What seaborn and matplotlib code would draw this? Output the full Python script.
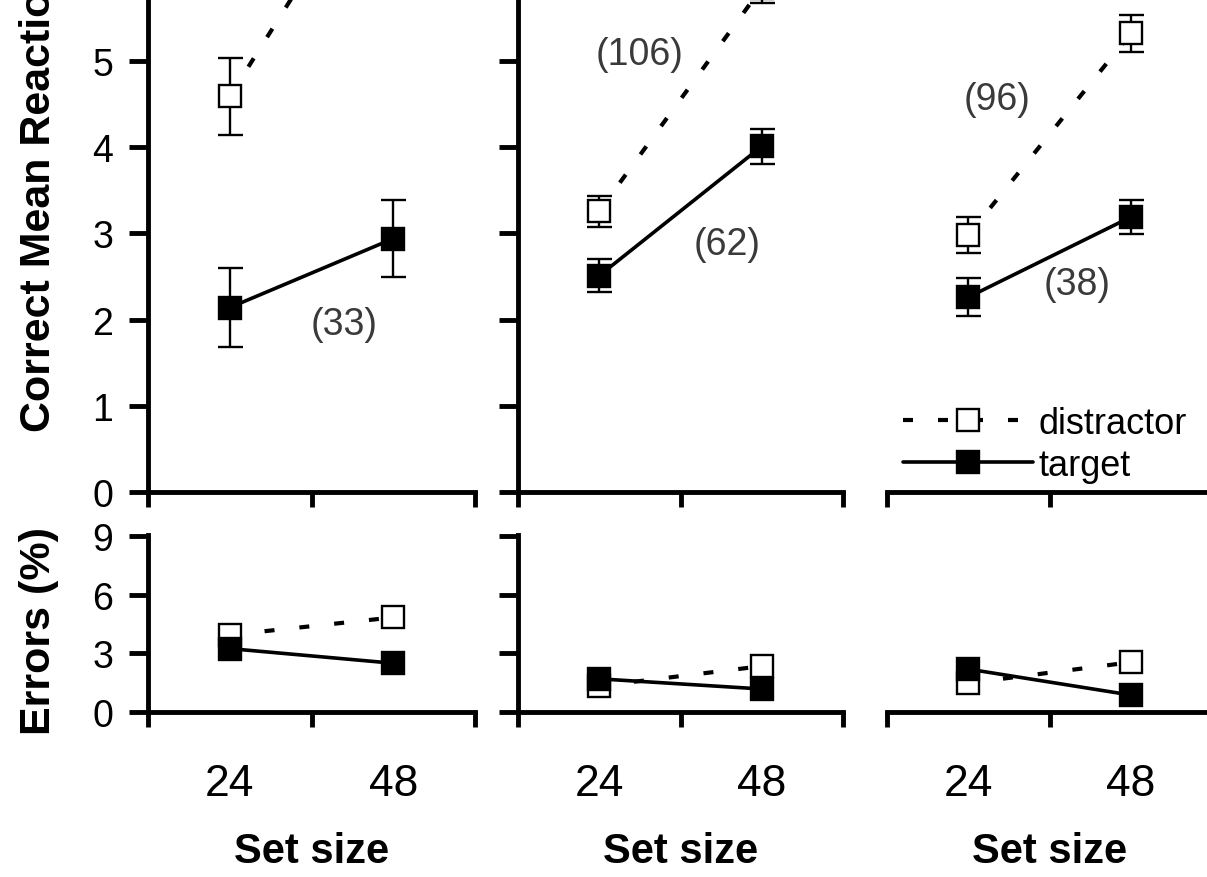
import numpy as np
import matplotlib
matplotlib.use("Agg")
import matplotlib.pyplot as plt
import seaborn as sns
from matplotlib.ticker import FixedLocator, NullFormatter, FixedFormatter

# ---------------- data ----------------
set_sizes = ["24", "48"]
# correct mean reaction time (s), one pair per panel
rt_distractor = [[4.59, 7.60], [3.26, 5.85], [2.98, 5.32]]
rt_distractor_sem = [[0.45, 0.45], [0.18, 0.18], [0.21, 0.22]]
rt_target = [[2.14, 2.94], [2.51, 4.01], [2.26, 3.19]]
rt_target_sem = [[0.46, 0.45], [0.19, 0.20], [0.22, 0.20]]
slope_distractor = [None, "(106)", "(96)"]
slope_target = ["(33)", "(62)", "(38)"]
# errors (%)
err_distractor = [[3.95, 4.85], [1.33, 2.35], [1.48, 2.55]]
err_target = [[3.25, 2.50], [1.70, 1.18], [2.20, 0.87]]
series_names = ["distractor", "target"]

# ---------------- style ----------------
sns.set_style("ticks")
plt.rcParams["font.family"] = ["Liberation Sans", "DejaVu Sans"]
for key in ("text.color", "axes.edgecolor", "axes.labelcolor",
            "xtick.color", "ytick.color"):
    plt.rcParams[key] = "black"
plt.rcParams["axes.linewidth"] = 3.5

W, H = 1207, 878
fig = plt.figure(figsize=(W / 100, H / 100), dpi=100)

lefts = [148, 518, 887]
widths = [327, 325, 325]
xpos = np.arange(len(set_sizes))

# annotation positions (axes-data coords)
pos_slope_d = [None, (0.25, 5.08), (0.18, 4.56)]
pos_slope_t = [(0.70, 1.95), (0.79, 2.88), (0.67, 2.41)]

dash = (0, (2.4, 6.0))


def draw_series(ax, y, yerr, filled, dashed, z):
    if yerr is not None:
        ax.errorbar(xpos, y, yerr=yerr, fmt="none", ecolor="black",
                    elinewidth=1.7, capsize=9, capthick=1.7, zorder=z - 1)
    sns.lineplot(x=xpos, y=y, ax=ax, color="black",
                 linewidth=3.0 if dashed else 2.6,
                 linestyle=dash if dashed else "-",
                 marker="s", markersize=15.5,
                 markerfacecolor="black" if filled else "white",
                 markeredgecolor="black", markeredgewidth=1.7,
                 zorder=z, legend=False)
    line = ax.lines[-1]
    line.set_dash_capstyle("butt")
    return line


def style_axis(ax, i, bottom_row):
    ax.set_xlim(-0.5, 1.5)
    ax.xaxis.set_major_locator(FixedLocator([-0.5, 0.5, 1.5]))
    ax.xaxis.set_major_formatter(NullFormatter())
    ax.tick_params(axis="x", which="major", direction="out", length=11,
                   width=3.5)
    sns.despine(ax=ax)
    for s in ("left", "bottom"):
        ax.spines[s].set_linewidth(3.5)
        ax.spines[s].set_capstyle("projecting")
    if bottom_row:
        ax.xaxis.set_minor_locator(FixedLocator(xpos))
        ax.xaxis.set_minor_formatter(FixedFormatter(set_sizes))
        ax.tick_params(axis="x", which="minor", length=0, pad=37,
                       labelsize=32)
        ax.set_xlabel("Set size", fontsize=30, fontweight="bold",
                      labelpad=19)
    else:
        ax.set_xlabel("")
    if i == 2:
        ax.spines["left"].set_visible(False)
        ax.tick_params(axis="y", which="both", left=False, labelleft=False)
    else:
        ax.tick_params(axis="y", direction="out", length=14, width=3.5,
                       labelsize=27, pad=11)
        if i == 1:
            ax.tick_params(axis="y", labelleft=False)
    ax.set_ylabel("")


for i in range(3):
    axt = fig.add_axes([lefts[i] / W, 1 - 493 / H, widths[i] / W, 493 / H])
    axb = fig.add_axes([lefts[i] / W, 1 - 713 / H, widths[i] / W, 177.5 / H])
    axt.patch.set_alpha(0)
    axb.patch.set_alpha(0)

    # top: reaction times
    ld = draw_series(axt, rt_distractor[i], rt_distractor_sem[i],
                     filled=False, dashed=True, z=3)
    lt = draw_series(axt, rt_target[i], rt_target_sem[i],
                     filled=True, dashed=False, z=5)
    axt.set_ylim(0, 5.72)
    axt.yaxis.set_major_locator(FixedLocator([0, 1, 2, 3, 4, 5]))
    style_axis(axt, i, bottom_row=False)

    if slope_distractor[i] is not None:
        axt.text(*pos_slope_d[i], slope_distractor[i], fontsize=27,
                 color="#3a3a3a", ha="center", va="center")
    axt.text(*pos_slope_t[i], slope_target[i], fontsize=27,
             color="#3a3a3a", ha="center", va="center")

    # bottom: errors
    draw_series(axb, err_distractor[i], None, filled=False, dashed=True, z=3)
    draw_series(axb, err_target[i], None, filled=True, dashed=False, z=5)
    axb.set_ylim(0, 9.1)
    axb.yaxis.set_major_locator(FixedLocator([0, 3, 6, 9]))
    style_axis(axb, i, bottom_row=True)

    if i == 0:
        axt.set_ylabel("Correct Mean Reaction Time (s)", fontsize=31,
                       fontweight="bold")
        axt.yaxis.set_label_coords(-0.272, 0.124)
        axt.yaxis.label.set_horizontalalignment("left")
        axb.set_ylabel("Errors (%)", fontsize=31, fontweight="bold")
        axb.yaxis.set_label_coords(-0.272, 0.46)
    if i == 2:
        axt.legend([ld, lt], series_names, loc="upper left",
                   bbox_to_anchor=(0.05, 0.175), frameon=False,
                   fontsize=26, handlelength=3.6, handletextpad=0.15,
                   labelspacing=0.2, borderpad=0, borderaxespad=0,
                   numpoints=1)

fig.savefig("out.png", dpi=100)
